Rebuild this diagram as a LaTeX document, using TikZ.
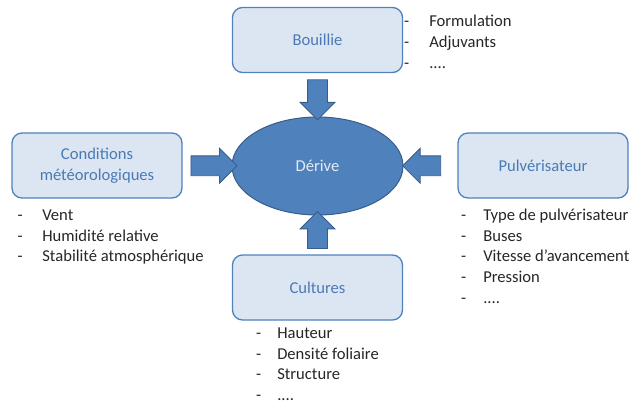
\documentclass[tikz,border=0pt]{standalone}
\usepackage{fontspec}
\setmainfont{Carlito}
\usetikzlibrary{shapes.geometric,shapes.arrows,calc}
\definecolor{boxfill}{HTML}{DCE6F2}
\definecolor{boxline}{HTML}{4F81BD}
\definecolor{boxtext}{HTML}{4A7AB5}
\definecolor{corefill}{HTML}{4F81BD}
\definecolor{coreline}{HTML}{385D8A}
\definecolor{coretext}{HTML}{E4EBF4}
\definecolor{listtext}{HTML}{262626}
\begin{document}
\begin{tikzpicture}[x=1pt,y=-1pt,
  font=\fontsize{16.6}{20.7}\selectfont,
  box/.style={draw=boxline, line width=1.3pt, fill=boxfill, rounded corners=10pt,
    minimum width=170pt, minimum height=65pt, text=boxtext, align=center, inner sep=2pt},
  core/.style={ellipse, draw=coreline, line width=1pt, fill=corefill,
    minimum width=171pt, minimum height=98pt, text=coretext, inner sep=0pt},
  blockarrow/.style={single arrow, draw=coreline, line width=0.8pt, fill=corefill,
    inner sep=9.5pt, single arrow head extend=7.5pt, single arrow tip angle=90},
  itemlist/.style={anchor=base west, inner sep=0pt, text=listtext}]
\useasboundingbox (0,0) rectangle (632,404);

\node[box] (bouillie) at (317.5,40) {\raisebox{-3pt}{Bouillie}};
\node[box] (meteo) at (97,165.5) {Conditions\\météorologiques};
\node[box] (pulv) at (543,165.5) {Pulvérisateur};
\node[box] (cultures) at (317.5,287.5) {\raisebox{-3pt}{Cultures}};
\node[core] (derive) at (317.5,166) {\raisebox{-3pt}{Dérive}};

\node[blockarrow, minimum height=40pt, rotate=-90] (a1) at ($(bouillie.south)!0.5!(derive.north)$) {};
\node[blockarrow, minimum height=46pt] (a2) at ($(meteo.east)!0.54!(derive.west)$) {};
\node[blockarrow, minimum height=38pt, rotate=180] (a3) at ($(derive.east)!0.43!(pulv.west)$) {};
\node[blockarrow, minimum height=37pt, rotate=90] (a4) at ($(cultures.north)!0.5!(derive.south)$) {};

\node[itemlist] (l1) at (404,27) {\begin{tabular}[t]{@{}l@{\hspace{20pt}}l@{}}-&Formulation\\-&Adjuvants\\-&....\end{tabular}};
\node[itemlist] (l2) at (17.5,220.5) {\begin{tabular}[t]{@{}l@{\hspace{19.6pt}}l@{}}-&Vent\\-&Humidité relative\\-&Stabilité atmosphérique\end{tabular}};
\node[itemlist] (l3) at (461,220.5) {\begin{tabular}[t]{@{}l@{\hspace{17pt}}l@{}}-&Type de pulvérisateur\\-&Buses\\-&Vitesse d’avancement\\-&Pression\\-&....\end{tabular}};
\node[itemlist] (l4) at (256,338.5) {\begin{tabular}[t]{@{}l@{\hspace{16pt}}l@{}}-&Hauteur\\-&Densité foliaire\\-&Structure\\-&....\end{tabular}};
\end{tikzpicture}
\end{document}
